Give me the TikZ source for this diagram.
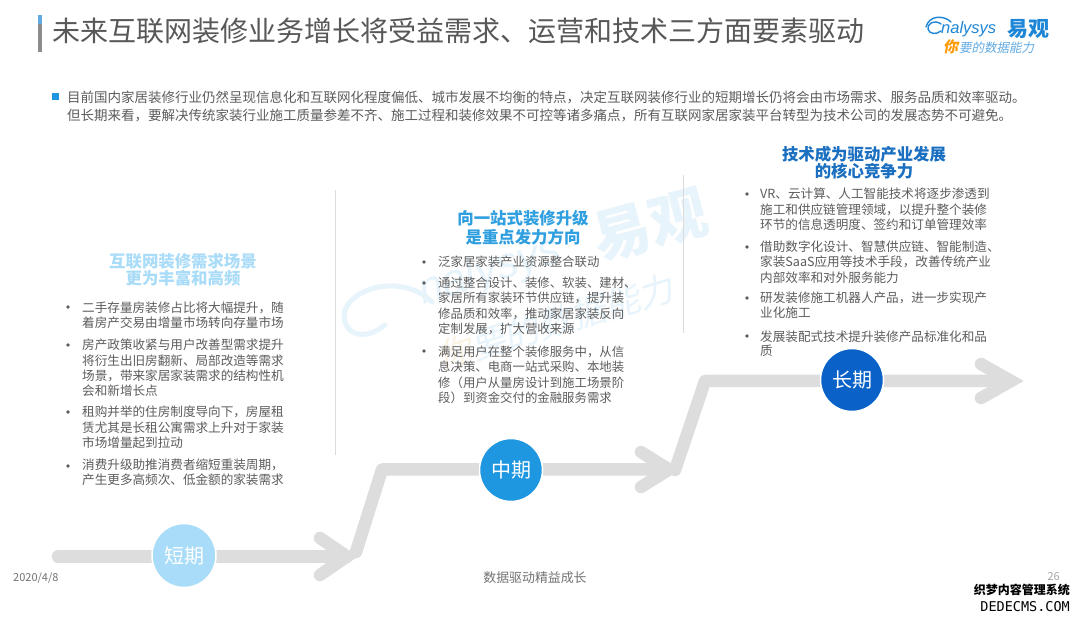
\documentclass[tikz,border=0pt]{standalone}
\usepackage{fontspec}
\setmainfont{Noto Sans CJK SC}
\newfontfamily\cjkit[FakeSlant=0.2]{Noto Sans CJK SC}
\newfontfamily\latinit{Liberation Sans}[ItalicFont=Liberation Sans Italic]
\newfontfamily\marka{DejaVu Sans Mono}
\definecolor{flowgrey}{HTML}{DDDDDD}
\definecolor{bodygrey}{HTML}{5C5C5C}
\definecolor{titlegrey}{HTML}{585858}
\definecolor{shortblue}{HTML}{A9DCF8}
\definecolor{midblue}{HTML}{1E96E0}
\definecolor{longblue}{HTML}{0A62C8}
\definecolor{headmid}{HTML}{2F9FE0}
\definecolor{headlong}{HTML}{1A6FC0}
\definecolor{logoblue}{HTML}{1E86D6}
\definecolor{wm}{HTML}{E8F4FB}
\definecolor{wmo}{HTML}{FBF3E4}
\tikzset{
  flow/.style={draw=flowgrey,line width=12.5pt,line join=round,line cap=round},
  headflow/.style={draw=flowgrey,line width=12.5pt,line join=miter,line cap=round},
  stage/.style={circle,minimum size=#1,inner sep=0pt,text=white,draw=white,line width=1.5pt,font=\fontsize{20}{20}\selectfont},
  ltext/.style={anchor=west,inner sep=0pt,text=bodygrey,align=left},
  small/.style={ltext,font=\fontsize{12.6}{15.3}\selectfont},
  tight/.style={ltext,font=\fontsize{12.6}{14}\selectfont},
  mids/.style={ltext,font=\fontsize{12.4}{15.3}\selectfont},
  intro/.style={ltext,font=\fontsize{13.5}{13.5}\selectfont},
  head/.style={inner sep=0pt,align=center,font=\fontsize{16.4}{#1}\selectfont\bfseries},
  divider/.style={draw=black!14,line width=0.7pt},
  foot/.style={inner sep=0pt,text=black!55,font=\fontsize{11}{11}\selectfont},
  dotb/.style={fill=bodygrey}
}
\begin{document}
\begin{tikzpicture}[x=1pt,y=-1pt]
\useasboundingbox (0,0) rectangle (1080,617);
\fill[white] (0,0) rectangle (1080,617);
% watermark
\node[rotate=15,text=wm,inner sep=0pt,font=\fontsize{58}{58}\selectfont\bfseries] (wm1) at (650,226) {易观};
\node[rotate=17,text=wm,inner sep=0pt,font=\latinit\itshape\fontsize{44}{44}\selectfont] (wm3) at (490,272) {nalysys};
\node[rotate=17,inner sep=0pt,text=wm,font=\cjkit\fontsize{35}{35}\selectfont] (wm2) at (555,322) {\textcolor{wmo}{你}要的数据能力};
\draw[wm,line width=5pt,line cap=round] (432,302) .. controls (405,275) and (355,285) .. (345,310) .. controls (340,330) and (360,345) .. (385,325);
% title
\fill[black!45] (38,15) rectangle (42,52);
\fill[logoblue!70] (38,15) rectangle (42,24);
\node[anchor=west,inner sep=0pt,text=titlegrey,font=\fontsize{28}{28}\selectfont] (title) at (52,31) {未来互联网装修业务增长将受益需求、运营和技术三方面要素驱动};
% logo
\draw[logoblue,line width=1.4pt,line cap=round] (926,27) .. controls (929,15) and (944,15) .. (951,22);
\draw[logoblue,line width=1.4pt,line cap=round] (941,24) .. controls (934,19) and (927,24) .. (928,29) .. controls (929,34) and (936,35) .. (941,31);
\node[anchor=west,inner sep=0pt,text=logoblue,font=\latinit\itshape\fontsize{16.5}{16.5}\selectfont] (logoa) at (941,29) {nalysys};
\node[anchor=west,inner sep=0pt,text=logoblue,font=\fontsize{21}{21}\selectfont\bfseries] (logob) at (1007,29) {易观};
\node[anchor=west,inner sep=0pt,text=orange!80!yellow,font=\cjkit\fontsize{15}{15}\selectfont\bfseries] (logoc) at (943,47) {你};
\node[anchor=west,inner sep=0pt,text=logoblue!70,font=\cjkit\fontsize{12.5}{12.5}\selectfont] (logod) at (959,48) {要的数据能力};
% intro
\fill[midblue] (52,93) rectangle (59,100);
\node[intro] (i1) at (67,97) {目前国内家居装修行业仍然呈现信息化和互联网化程度偏低、城市发展不均衡的特点，决定互联网装修行业的短期增长仍将会由市场需求、服务品质和效率驱动。};
\node[intro] (i2) at (67,116) {但长期来看，要解决传统家装行业施工质量参差不齐、施工过程和装修效果不可控等诸多痛点，所有互联网家居家装平台转型为技术公司的发展态势不可避免。};
% dividers
\draw[divider] (335,190) -- (335,455);
\draw[divider] (683,175) -- (683,333);
% flow
\coordinate (s0) at (58,556.5);
\coordinate (t1) at (347,556.5);
\coordinate (r1) at (356,552);
\coordinate (u1) at (382,469.5);
\coordinate (t2) at (669,469.5);
\coordinate (r2) at (675,470);
\coordinate (u2) at (705,381);
\coordinate (t3) at (1011,381);
\coordinate (a1) at (320,538);
\coordinate (b1) at (320,575);
\coordinate (a2) at (641,452);
\coordinate (b2) at (641,487);
\coordinate (a3) at (981,364);
\coordinate (b3) at (981,398);
\draw[flow] (s0) -- (t1);
\draw[flow] (r1) -- (u1) -- (t2);
\draw[flow] (r2) -- (u2) -- (t3);
\draw[headflow] (a1) -- (t1) -- (b1);
\draw[headflow] (a2) -- (t2) -- (b2);
\draw[headflow] (a3) -- (t3) -- (b3);
% stages
\node[stage=64pt,fill=shortblue] (short) at (184,555.5) {短期};
\node[stage=63pt,fill=midblue] (mid) at (511,470) {中期};
\node[stage=63pt,fill=longblue] (long) at (852,380) {长期};
% left
\node[head=15.3pt,text=shortblue] (h1) at (183,269.5) {互联网装修需求场景\\更为丰富和高频};
\foreach \y in {307,345,412,466} \fill[dotb] (68,\y) circle (1.9);
\node[small] (l1) at (82,315.5) {二手存量房装修占比将大幅提升，随\\着房产交易由增量市场转向存量市场};
\node[small] (l2) at (82,368) {房产政策收紧与用户改善型需求提升\\将衍生出旧房翻新、局部改造等需求\\场景，带来家居家装需求的结构性机\\会和新增长点};
\node[small] (l3) at (82,427.5) {租购并举的住房制度导向下，房屋租\\赁尤其是长租公寓需求上升对于家装\\市场增量起到拉动};
\node[small] (l4) at (82,472.5) {消费升级助推消费者缩短重装周期，\\产生更多高频次、低金额的家装需求};
% middle
\node[head=19pt,text=headmid] (h2) at (523,227.5) {向一站式装修升级\\是重点发力方向};
\foreach \y in {262,283,351} \fill[dotb] (424,\y) circle (1.9);
\node[mids] (m1) at (438,262) {泛家居家装产业资源整合联动};
\node[mids] (m2) at (438,306) {通过整合设计、装修、软装、建材、\\家居所有家装环节供应链，提升装\\修品质和效率，推动家居家装反向\\定制发展，扩大营收来源};
\node[mids] (m3) at (438,375) {满足用户在整个装修服务中，从信\\息决策、电商一站式采购、本地装\\修（用户从量房设计到施工场景阶\\段）到资金交付的金融服务需求};
% right
\node[head=16pt,text=headlong] (h3) at (864,163) {技术成为驱动产业发展\\的核心竞争力};
\foreach \y in {194,247,298,336} \fill[dotb] (747,\y) circle (1.9);
\node[small] (r1t) at (760,209.5) {VR、云计算、人工智能技术将逐步渗透到\\施工和供应链管理领域，以提升整个装修\\环节的信息透明度、签约和订单管理效率};
\node[small] (r2t) at (760,262) {借助数字化设计、智慧供应链、智能制造、\\家装SaaS应用等技术手段，改善传统产业\\内部效率和对外服务能力};
\node[small] (r3t) at (760,305.5) {研发装修施工机器人产品，进一步实现产\\业化施工};
\node[tight] (r4t) at (760,344) {发展装配式技术提升装修产品标准化和品\\质};
% footer
\node[foot,anchor=west] (date) at (13,578) {2020/4/8};
\node[foot,font=\fontsize{12.9}{12.9}\selectfont] (motto) at (535,578) {数据驱动精益成长};
\node[foot,anchor=east,text=black!35] (page) at (1060,577) {26};
\node[anchor=east,inner sep=1pt,fill=white,text=black,font=\fontsize{12}{12}\selectfont\bfseries] (dede1) at (1071,590) {织梦内容管理系统};
\node[anchor=east,inner sep=1pt,fill=white,text=black,font=\marka\fontsize{13.5}{13.5}\selectfont] (dede2) at (1071,607) {DEDECMS.COM};
\end{tikzpicture}
\end{document}
